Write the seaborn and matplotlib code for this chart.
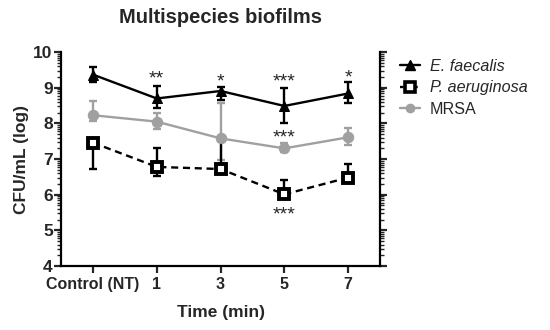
import numpy as np
import pandas as pd
import matplotlib
matplotlib.use("Agg")
import matplotlib.pyplot as plt
from matplotlib.ticker import FixedLocator
from matplotlib.lines import Line2D
import seaborn as sns

categories = ["Control (NT)", "1", "3", "5", "7"]
series_names = ["E. faecalis", "P. aeruginosa", "MRSA"]

ef_mean = [9.37, 8.70, 8.91, 8.49, 8.84]
ef_err_lo = [0.20, 0.26, 0.26, 0.47, 0.28]
ef_err_hi = [0.20, 0.35, 0.12, 0.51, 0.33]

pa_mean = [7.46, 6.78, 6.72, 6.01, 6.48]
pa_err_lo = [0.75, 0.26, 0.00, 0.10, 0.05]
pa_err_hi = [0.00, 0.54, 0.80, 0.40, 0.38]

mr_mean = [8.23, 8.05, 7.58, 7.30, 7.61]
mr_err_lo = [0.16, 0.22, 0.60, 0.10, 0.22]
mr_err_hi = [0.40, 0.25, 1.00, 0.14, 0.25]

stars = [(1, 9.25, "**"), (2, 9.15, "*"), (3, 9.15, "***"), (4, 9.27, "*"),
         (3, 7.58, "***"), (3, 5.43, "***")]

sns.set_theme(style="ticks")
plt.rcParams["font.family"] = ["Liberation Sans", "DejaVu Sans"]
plt.rcParams["font.weight"] = "bold"

x = np.arange(len(categories))
df = pd.DataFrame({
    "x": np.concatenate([x, x, x]),
    "y": ef_mean + pa_mean + mr_mean,
    "series": np.repeat(series_names, len(categories)),
})

fig = plt.figure(figsize=(5.5, 3.3), dpi=100)
ax = fig.add_axes([0.111, 0.194, 0.58, 0.648])

colors = {"E. faecalis": "black", "P. aeruginosa": "black", "MRSA": "#a0a0a0"}
ax.errorbar(x, mr_mean, yerr=[mr_err_lo, mr_err_hi], fmt="none",
            ecolor="#a0a0a0", elinewidth=1.7, capsize=3, capthick=1.7, zorder=1)
ax.errorbar(x, ef_mean, yerr=[ef_err_lo, ef_err_hi], fmt="none",
            ecolor="black", elinewidth=1.7, capsize=3, capthick=1.7, zorder=2)
ax.errorbar(x, pa_mean, yerr=[pa_err_lo, pa_err_hi], fmt="none",
            ecolor="black", elinewidth=1.7, capsize=3, capthick=1.7, zorder=2)

sns.lineplot(data=df, x="x", y="y", hue="series", style="series",
             palette=colors, markers={"E. faecalis": "^", "P. aeruginosa": "s", "MRSA": "o"},
             dashes={"E. faecalis": "", "P. aeruginosa": (3, 2), "MRSA": ""},
             linewidth=1.7, markersize=7.5, ax=ax, legend=False, zorder=3)

for line in ax.get_lines():
    m = line.get_marker()
    if m == "s":
        line.set_markerfacecolor("white")
        line.set_markeredgecolor("black")
        line.set_markeredgewidth(2.8)
        line.set_markersize(7)
    elif m == "^":
        line.set_markerfacecolor("black")
        line.set_markeredgecolor("black")
    elif m == "o":
        line.set_markerfacecolor("#a0a0a0")
        line.set_markeredgecolor("#a0a0a0")

for xi, yi, s in stars:
    ax.text(xi, yi, s, ha="center", va="center", fontsize=14, fontweight="normal")

ax.set_xlim(-0.5, 4.5)
ax.set_ylim(4, 10)
ax.set_xticks(x)
ax.set_xticklabels(categories, fontsize=11.5, fontweight="bold")
ax.set_yticks(range(4, 11))
ax.set_yticklabels([str(v) for v in range(4, 11)], fontsize=12.5, fontweight="bold")
minor = [n + np.log10(k) for n in range(4, 10) for k in range(2, 10)]
ax.yaxis.set_minor_locator(FixedLocator(minor))
ax.yaxis.set_ticks_position("both")
ax.tick_params(axis="y", which="major", direction="out", length=5, width=1.6, pad=1)
ax.tick_params(axis="y", which="minor", direction="out", length=3, width=1.0)
ax.tick_params(axis="x", which="major", direction="out", length=5, width=1.6, pad=3)
ax.spines["top"].set_visible(False)
for s in ["left", "bottom", "right"]:
    ax.spines[s].set_linewidth(1.6)
    ax.spines[s].set_color("black")

ax.set_xlabel("Time (min)", fontsize=12.5, fontweight="bold", labelpad=9)
ax.set_ylabel("CFU/mL (log)", fontsize=12.5, fontweight="bold", labelpad=3)
ax.set_title("Multispecies biofilms", fontsize=14.5, fontweight="bold", pad=21)

handles = [
    Line2D([], [], color="black", marker="^", markersize=7, linewidth=1.7),
    Line2D([], [], color="black", marker="s", markersize=6.5, markerfacecolor="white",
           markeredgewidth=2.6, linewidth=1.7, linestyle=(0, (1.5, 1.5))),
    Line2D([], [], color="#a0a0a0", marker="o", markersize=6, linewidth=1.7),
]
leg = fig.legend(handles, series_names, loc="upper left", bbox_to_anchor=(0.70, 0.865),
                 frameon=False, handlelength=1.3, handletextpad=0.6, labelspacing=0.4,
                 prop={"size": 11.6, "weight": "normal"})
for t in leg.get_texts()[:2]:
    t.set_fontstyle("italic")

fig.savefig("out.png", dpi=100)
